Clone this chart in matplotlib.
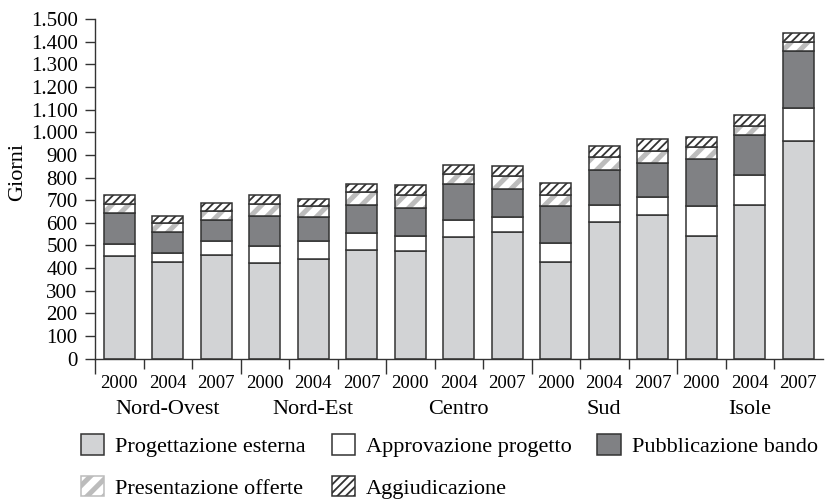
import matplotlib
matplotlib.use("Agg")
import matplotlib.pyplot as plt
from matplotlib.patches import Patch
import numpy as np

plt.rcParams['font.family'] = ['Liberation Serif', 'DejaVu Serif']

regions = ["Nord-Ovest", "Nord-Est", "Centro", "Sud", "Isole"]
years = ["2000", "2004", "2007"]

progettazione = [453, 425, 456, 421, 439, 480, 477, 537, 561, 428, 605, 634, 542, 677, 962]
approvazione = [52, 40, 65, 76, 81, 74, 66, 75, 65, 81, 74, 80, 132, 134, 144]
pubblicazione = [140, 94, 93, 133, 106, 126, 124, 161, 125, 164, 154, 150, 208, 177, 253]
presentazione = [38, 41, 38, 53, 50, 57, 54, 44, 57, 51, 59, 53, 51, 41, 38]
aggiudicazione = [38, 30, 37, 38, 29, 33, 44, 38, 41, 50, 48, 53, 46, 47, 42]

series_names = ["Progettazione esterna", "Approvazione progetto", "Pubblicazione bando",
                "Presentazione offerte", "Aggiudicazione"]

EDGE = '#333333'
LIGHT = '#d2d3d5'
DARK = '#808184'
STRIPE = '#bcbcbc'
LW = 1.1
PRES_HATCH = '//'
AGG_HATCH = '////'
PRES_HATCH_LW = 3.6
AGG_HATCH_LW = 1.3


def with_hatch_lw(artist, lw):
    orig = artist.draw

    def draw(renderer, _orig=orig, _lw=lw):
        with plt.rc_context({'hatch.linewidth': _lw}):
            if hasattr(artist, 'set_hatch_linewidth'):
                try:
                    artist.set_hatch_linewidth(_lw)
                except Exception:
                    pass
            _orig(renderer)
    artist.draw = draw


fig = plt.figure(figsize=(8.26, 4.99), dpi=100)
ax = fig.add_axes([95/826, 140.3/499, (822.5-95)/826, (358.7-19)/499])

n = len(progettazione)
x = np.arange(n)
w = 0.63

bottom = np.zeros(n)
ax.bar(x, progettazione, w, bottom=bottom, color=LIGHT, edgecolor=EDGE, linewidth=LW)
bottom += progettazione
ax.bar(x, approvazione, w, bottom=bottom, color='white', edgecolor=EDGE, linewidth=LW)
bottom += approvazione
ax.bar(x, pubblicazione, w, bottom=bottom, color=DARK, edgecolor=EDGE, linewidth=LW)
bottom += pubblicazione
b = ax.bar(x, presentazione, w, bottom=bottom, color='white', edgecolor=STRIPE, linewidth=0, hatch=PRES_HATCH)
for p in b:
    with_hatch_lw(p, PRES_HATCH_LW)
ax.bar(x, presentazione, w, bottom=bottom, fill=False, edgecolor=EDGE, linewidth=LW)
bottom += presentazione
b = ax.bar(x, aggiudicazione, w, bottom=bottom, color='white', edgecolor=EDGE, linewidth=LW, hatch=AGG_HATCH)
for p in b:
    with_hatch_lw(p, AGG_HATCH_LW)

ax.set_xlim(-0.5, n - 0.5)
ax.set_ylim(0, 1500)
ax.set_yticks(np.arange(0, 1501, 100))
ax.set_yticklabels([f"{v:,}".replace(",", ".") for v in range(0, 1501, 100)])
ax.tick_params(axis='y', length=7, width=1, color=EDGE, pad=5.5, labelsize=15, direction='out')

group_bounds = [-0.5, 2.5, 5.5, 8.5, 11.5]
minor_bounds = [i + 0.5 for i in range(n - 1) if (i + 0.5) not in group_bounds]
ax.set_xticks(group_bounds)
ax.set_xticklabels([])
ax.set_xticks(minor_bounds, minor=True)
ax.tick_params(axis='x', which='major', length=11, width=1, color=EDGE, direction='out')
ax.tick_params(axis='x', which='minor', length=7, width=1, color=EDGE, direction='out')

for s in ['top', 'right']:
    ax.spines[s].set_visible(False)
for s in ['left', 'bottom']:
    ax.spines[s].set_color(EDGE)
    ax.spines[s].set_linewidth(1)

ax.set_ylabel("Giorni", fontsize=16)
ax.yaxis.set_label_coords((27.5 - 95) / 727.5, 0.55)

trans = matplotlib.transforms.blended_transform_factory(ax.transData, fig.transFigure)
for i in range(n):
    ax.text(i, (499 - 387.7) / 499, years[i % 3], transform=trans, ha='center', va='baseline', fontsize=13.5)
for g, r in enumerate(regions):
    ax.text(g * 3 + 1, (499 - 414) / 499, r, transform=trans, ha='center', va='baseline', fontsize=16)

h = {
    "Progettazione esterna": Patch(facecolor=LIGHT, edgecolor=EDGE, linewidth=LW),
    "Approvazione progetto": Patch(facecolor='white', edgecolor=EDGE, linewidth=LW),
    "Pubblicazione bando": Patch(facecolor=DARK, edgecolor=EDGE, linewidth=LW),
    "Presentazione offerte": Patch(facecolor='white', edgecolor=STRIPE, linewidth=LW, hatch=PRES_HATCH),
    "Aggiudicazione": Patch(facecolor='white', edgecolor=EDGE, linewidth=LW, hatch=AGG_HATCH),
}
order = ["Progettazione esterna", "Presentazione offerte", "Approvazione progetto",
         "Aggiudicazione", "Pubblicazione bando"]
leg = fig.legend([h[k] for k in order], order, loc='upper left', bbox_to_anchor=(81/826, 1 - 434/499),
                 ncol=3, frameon=False, fontsize=16, handlelength=1.05, handleheight=1.05,
                 handletextpad=0.5, columnspacing=1.15, labelspacing=0.85, borderpad=0, borderaxespad=0)
lh = leg.legend_handles if hasattr(leg, 'legend_handles') else leg.legendHandles
with_hatch_lw(lh[1], PRES_HATCH_LW)
with_hatch_lw(lh[3], AGG_HATCH_LW)

fig.savefig("out.png", dpi=100)
